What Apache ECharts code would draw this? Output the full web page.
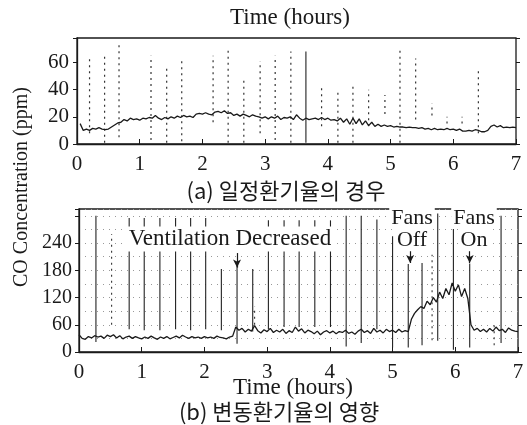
<!DOCTYPE html>
<html>
<head>
<meta charset="utf-8">
<title>CO Concentration</title>
<script src="https://cdn.jsdelivr.net/npm/echarts@6/dist/echarts.min.js"></script>
<style>
  html, body { margin: 0; padding: 0; background: #fff; }
  #chart { width: 527px; height: 425px; }
</style>
</head>
<body>
<div id="chart"></div>
<script>
// 采样间隔 (hours)
const STEP = 0.05;

// (a) 일정환기율 — CO trace, from t = 0.05 h
const traceA = [
  15, 10, 11, 10, 11.5, 11, 12, 11, 10.5, 11,
  12.5, 14, 15.5, 16, 18, 17, 19, 18, 18.5, 17.5,
  19, 18.5, 19.5, 19, 21, 19, 18, 19.5, 18.5, 20,
  19, 20.5, 19.5, 21, 20, 20.5, 19.5, 22, 22.5, 22,
  23, 22, 21.5, 23.5, 24, 23, 24.5, 22.5, 23, 21,
  22, 20.5, 22, 21, 20, 21.5, 20.5, 20, 19, 20,
  18.5, 20, 19, 20.5, 18, 19.5, 19, 20, 18, 21.5,
  19, 17.5, 19, 18, 18.5, 19, 18, 19.5, 18, 19,
  17.5, 18, 17, 19, 16, 18.5, 14.5, 19, 15, 18.5,
  14, 17, 13.5, 16, 13, 14.5, 13, 14, 13, 13.5,
  12.5, 13, 12.5, 12.5, 12, 12.5, 12, 12, 11.5, 12,
  11, 11.5, 10.5, 11.5, 10.5, 11, 10.5, 11.5, 10.5, 11,
  10, 11, 9.5, 9.5, 10, 9.5, 10.5, 10, 9, 9,
  10, 13, 14, 12.5, 13.5, 12, 12.5, 12, 12.5, 12
];

// (a) dotted recorder marks: time, low, high (ppm)
const dotsA_t    = [0.20, 0.44, 0.67, 1.18, 1.43, 1.67, 2.17, 2.41, 2.66, 2.92, 3.16, 3.41, 3.90, 4.16, 4.40, 4.65, 4.91, 5.15, 5.40, 5.66, 5.90, 6.14, 6.40];
const dotsA_low  = [8, 1, 5, 3, 1, 2, 16, 1, 1, 8, 3, 1, 13, 1, 1, 13, 22, 1, 18, 21, 15, 15, 8];
const dotsA_high = [64, 67, 75, 65, 58, 61, 65, 70, 48, 61, 65, 68, 43, 40, 44, 40, 36, 69, 63, 30, 20, 20, 56];
// (a) solid mark
const solidA_t = [3.65], solidA_low = [1], solidA_high = [68];

// (b) 변동환기율 — CO trace, from t = 0
const traceB = [
  38, 30, 28, 34, 31, 36, 33, 35, 30, 37,
  34, 38, 31, 36, 29, 33, 35, 30, 34, 31,
  29, 33, 30, 35, 31, 28, 33, 30, 34, 29,
  32, 35, 31, 37, 33, 30, 34, 31, 33, 30,
  34, 31, 33, 30, 35, 32, 31, 29, 33, 35,
  55, 48, 52, 44, 50, 46, 58, 47, 42, 49,
  45, 52, 43, 48, 44, 50, 41, 47, 43, 55,
  46, 51, 42, 48, 45, 40, 46, 38, 44, 47,
  42, 46, 40, 45, 43, 48, 41, 44, 39, 46,
  50, 43, 47, 41, 52, 44, 48, 42, 50, 45,
  48, 43, 50, 44, 47, 45, 72, 85, 93, 100,
  96, 112, 104, 120, 110, 132, 118, 140, 126, 152,
  134, 148, 122, 140, 118, 60, 48, 52, 45, 50,
  44, 52, 46, 55, 47, 50, 43, 53, 48, 46,
  45
];

// (b) calibration spikes: time, low, high (ppm)
const spikeB_t    = [0.27, 0.80, 1.04, 1.29, 1.54, 1.78, 2.02, 2.27, 2.52, 2.77, 3.02, 3.27, 3.51, 3.76, 4.01, 4.26, 4.50, 4.75, 5.00, 5.25, 5.47, 5.72, 5.97, 6.23, 6.73];
const spikeB_low  = [22, 50, 48, 48, 50, 48, 50, 48, 18, 45, 50, 55, 55, 55, 55, 12, 20, 50, 10, 10, 15, 25, 5, 10, 20];
const spikeB_high = [300, 295, 295, 295, 295, 295, 295, 183, 190, 183, 290, 290, 290, 290, 290, 300, 300, 292, 255, 194, 196, 305, 285, 195, 300];
// (b) dotted marks
const dotsB_t    = [0.52, 2.80, 5.63, 6.62];
const dotsB_low  = [60, 60, 26, 15];
const dotsB_high = [260, 100, 214, 60];

// annotation arrows: time, from, to (ppm)
const arrow_t    = [2.52, 5.28, 6.23];
const arrow_from = [218, 222, 222];
const arrow_to   = [186, 196, 196];

const SERIF = '"Liberation Serif", "DejaVu Serif", serif';
const KR = '"Noto Sans CJK KR", sans-serif';
const INK = '#1a1a1a';

const toPairs = (arr, t0) => arr.map((v, i) => [+(t0 + i * STEP).toFixed(2), v]);
const toSegs = (t, lo, hi) => t.map((x, i) => [x, lo[i], hi[i]]);

// 竖线 renderItem
function segItem(dash, color, width) {
  return function (params, api) {
    const p1 = api.coord([api.value(0), api.value(1)]);
    const p2 = api.coord([api.value(0), api.value(2)]);
    return {
      type: 'line',
      shape: { x1: p1[0], y1: p1[1], x2: p2[0], y2: p2[1] },
      style: { stroke: color, lineWidth: width, lineDash: dash }
    };
  };
}

function segSeries(data, xi, dash, color, width) {
  return {
    type: 'custom',
    xAxisIndex: xi,
    yAxisIndex: xi * 2,
    renderItem: segItem(dash, color, width),
    encode: { x: 0, y: [1, 2] },
    data: data,
    silent: true,
    z: 2
  };
}

// 文字 (graphic)
function label(text, x, y, size, family, extra) {
  return {
    type: 'text', x: x, y: y, z: 100,
    style: Object.assign({
      text: text, fontSize: size, fontFamily: family, fill: INK,
      align: 'center', verticalAlign: 'middle'
    }, extra || {})
  };
}
const boxed = { backgroundColor: '#fff', padding: [0, 2] };

const xAxisBase = {
  type: 'value', min: 0, max: 7, interval: 1,
  axisLine: { show: true, lineStyle: { color: INK, width: 1.3 } },
  axisTick: { show: true, inside: true, length: 5, lineStyle: { color: INK } },
  axisLabel: { color: INK, fontFamily: SERIF, fontSize: 21, margin: 10 },
  splitLine: { show: false }
};

const chart = echarts.init(document.getElementById('chart'));

const option = {
  animation: false,
  backgroundColor: '#fff',
  grid: [
    { left: 77, right: 11, top: 38, height: 106, show: true, borderColor: INK, borderWidth: 1.3 },
    { left: 79, right: 9, top: 209, height: 143, show: true, borderColor: INK, borderWidth: 1.3 }
  ],
  xAxis: [
    Object.assign({}, xAxisBase, { gridIndex: 0 }),
    Object.assign({}, xAxisBase, { gridIndex: 1 })
  ],
  yAxis: [
    {
      gridIndex: 0, type: 'value', min: 0, max: 78, interval: 20,
      axisLine: { show: true, lineStyle: { color: INK, width: 1.3 } },
      axisTick: { show: true, length: 4, lineStyle: { color: INK } },
      axisLabel: {
        color: INK, fontFamily: SERIF, fontSize: 21, margin: 8,
        formatter: v => (v <= 60 ? String(v) : '')
      },
      splitLine: { show: false }
    },
    {
      gridIndex: 0, type: 'value', position: 'right', min: 0, max: 78, interval: 20,
      axisLine: { show: false }, axisLabel: { show: false },
      axisTick: { show: true, length: 4, lineStyle: { color: INK } },
      splitLine: { show: false }
    },
    {
      gridIndex: 1, type: 'value', min: 0, max: 315, interval: 60,
      axisLine: { show: true, lineStyle: { color: INK, width: 1.3 } },
      axisTick: { show: true, length: 4, lineStyle: { color: INK } },
      axisLabel: {
        color: INK, fontFamily: SERIF, fontSize: 20, margin: 7,
        formatter: v => (v <= 240 ? String(v) : '')
      },
      splitLine: { show: true, lineStyle: { color: '#999', type: [1, 5], width: 1 } },
      minorTick: { show: false, splitNumber: 2 },
      minorSplitLine: { show: true, lineStyle: { color: '#999', type: [1, 5], width: 1 } }
    },
    {
      gridIndex: 1, type: 'value', position: 'right', min: 0, max: 315, interval: 60,
      axisLine: { show: false }, axisLabel: { show: false },
      axisTick: { show: true, length: 4, lineStyle: { color: INK } },
      splitLine: { show: false }
    }
  ],
  series: [
    segSeries(toSegs(dotsA_t, dotsA_low, dotsA_high), 0, [2, 4], '#333', 1.2),
    segSeries(toSegs(solidA_t, solidA_low, solidA_high), 0, null, '#333', 1.2),
    {
      type: 'line', xAxisIndex: 0, yAxisIndex: 0,
      data: toPairs(traceA, STEP),
      showSymbol: false, symbol: 'none',
      lineStyle: { color: INK, width: 1.3 }, z: 3
    },
    segSeries(toSegs(spikeB_t, spikeB_low, spikeB_high), 1, null, '#222', 1.1),
    segSeries(toSegs(dotsB_t, dotsB_low, dotsB_high), 1, [2, 4], '#333', 1.1),
    {
      type: 'line', xAxisIndex: 1, yAxisIndex: 2,
      data: toPairs(traceB, 0),
      showSymbol: false, symbol: 'none',
      lineStyle: { color: INK, width: 1.3 }, z: 3,
      markLine: {
        silent: true, symbol: ['none', 'arrow'], symbolSize: [6, 8],
        label: { show: false },
        lineStyle: { color: INK, width: 1.2, type: 'solid' },
        data: arrow_t.map((t, i) => [{ coord: [t, arrow_from[i]] }, { coord: [t, arrow_to[i]] }])
      }
    }
  ],
  graphic: [
    label('Time (hours)', 290, 18, 23, SERIF),
    label('(a) 일정환기율의 경우', 286, 191, 22, KR),
    Object.assign(label('CO Concentration (ppm)', 22, 187, 20, SERIF), { rotation: Math.PI / 2 }),
    label('Ventilation Decreased', 230, 239, 23, SERIF, { backgroundColor: '#fff', padding: [1, 3] }),
    label('Fans', 412, 218, 22, SERIF, boxed),
    label('Off', 412, 240, 22, SERIF, boxed),
    label('Fans', 474, 218, 22, SERIF, boxed),
    label('On', 474, 240, 22, SERIF, boxed),
    label('Time (hours)', 293, 388, 23, SERIF),
    label('(b) 변동환기율의 영향', 279, 412, 22, KR)
  ]
};

chart.setOption(option);
</script>
</body>
</html>
